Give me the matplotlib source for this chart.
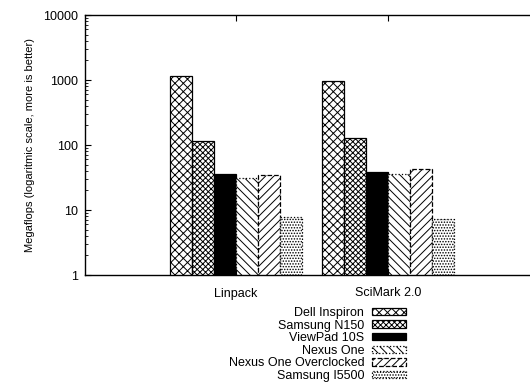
import matplotlib
matplotlib.use('Agg')
import matplotlib.pyplot as plt
import numpy as np

plt.rcParams['font.family'] = ['Liberation Sans', 'DejaVu Sans']
plt.rcParams['hatch.linewidth'] = 0.7

# -----------------------------------------------

benchmarks = ['Linpack', 'SciMark 2.0']
devices = ['Dell Inspiron', 'Samsung N150', 'ViewPad 10S',
           'Nexus One', 'Nexus One Overclocked', 'Samsung I5500']
linpack = [1150, 115, 35.8, 31, 34.5, 7.8]
scimark = [966, 128, 38.4, 35.8, 42.7, 7.3]
yticks = [1, 10, 100, 1000, 10000]

hatches = ['xxxx', 'xxxxxx', None, '\\\\\\\\', '////', '......']
fills = ['white', 'white', 'black', 'white', 'white', 'white']
edge_styles = ['-', '-', '-', ':', '--', ':']

# -----------------------------------------------

fig = plt.figure(figsize=(5.30, 3.83), dpi=100)
ax = fig.add_axes([85 / 530, 1 - 275 / 383, 445 / 530, 260 / 383])

x = np.arange(len(benchmarks))
width = 0.145
values = np.array([linpack, scimark]).T

for i, dev in enumerate(devices):
    ax.bar(x + (i - 2.5) * width, values[i], width,
           color=fills[i], edgecolor='black', hatch=hatches[i],
           linewidth=0.9, linestyle=edge_styles[i], label=dev)

ax.set_yscale('log')
ax.set_ylim(1, 10000)
ax.set_xlim(-0.993, 1.934)
ax.set_yticks(yticks)
ax.set_yticklabels([str(t) for t in yticks])
ax.set_xticks(x)
ax.set_xticklabels(benchmarks)
ax.tick_params(axis='both', direction='in', labelsize=9, top=True, right=False)
ax.tick_params(axis='y', which='minor', direction='in', length=2, right=False)
ax.tick_params(axis='y', which='major', length=4, pad=5)
ax.tick_params(axis='x', length=4, pad=9)
ax.spines['right'].set_visible(False)
for s in ['left', 'top', 'bottom']:
    ax.spines[s].set_linewidth(1.0)

ax.set_ylabel('Megaflops (logaritmic scale, more is better)', fontsize=8, labelpad=6)

fig.legend(loc='upper right', bbox_to_anchor=(0.778, 0.215), frameon=False,
           markerfirst=False, fontsize=9, borderpad=0, labelspacing=0.05,
           handlelength=2.75, handleheight=0.55, handletextpad=0.6)

fig.savefig('out.png', dpi=100)
